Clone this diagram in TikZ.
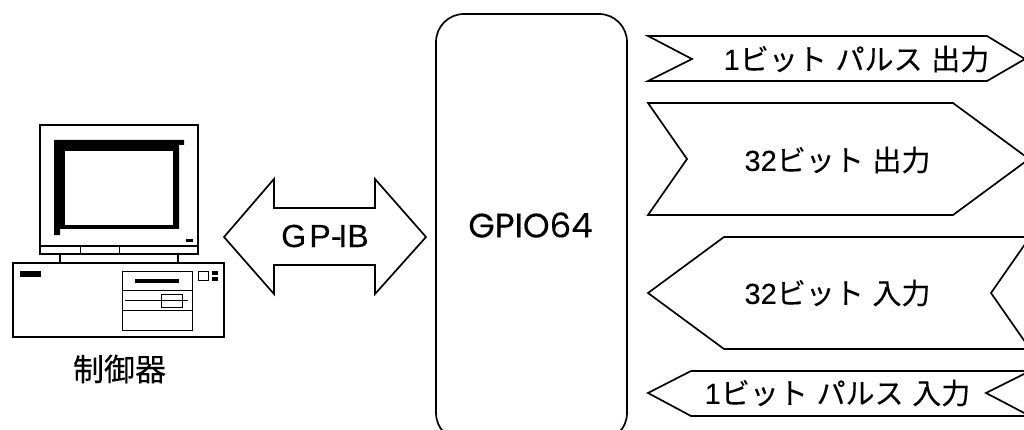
\documentclass[tikz,border=0pt]{standalone}
\usepackage{fontspec}
\setmainfont[FakeBold=0.12]{Liberation Sans}
\newfontfamily\cjk[FakeBold=0.2]{Noto Sans CJK JP}
\newfontfamily\geo[FakeBold=0.15]{Poppins}
\newcommand{\gp}{\hspace{0.3em}}
\tikzset{
  outline/.style={draw=black,line width=1.7pt,line join=miter,fill=white},
  thinline/.style={draw=black,line width=1pt},
  solid black/.style={fill=black,draw=none},
  pulselabel/.style={inner sep=0pt,font=\fontsize{29}{29}\selectfont,text=black},
  bigtext/.style={inner sep=0pt,font=\fontsize{31}{31}\selectfont,text=black}
}
\begin{document}
\begin{tikzpicture}[x=1pt,y=-1pt]
\useasboundingbox (0,0) rectangle (1024,430);
\clip (0,0) rectangle (1024,430);
% monitor
\draw[outline,line width=2pt] (40,125) rectangle (198,254);
\fill[solid black] (54,140) -- (184,140) -- (184,145) -- (179,145) -- (179,229) -- (60,229) -- (60,235) -- (54,235) -- cycle;
\fill[white] (65,151) rectangle (173,225);
\fill[solid black] (186,239) rectangle (193,242);
\draw[outline,line width=1.4pt] (40,246) -- (198,246);
\draw[thinline] (80,246) -- (80,254) (119,246) -- (119,254);
\draw[outline,line width=2pt] (60,254) -- (60,263) (178,254) -- (178,263);
% base
\draw[outline,line width=2pt] (13,263) rectangle (224,337);
\fill[solid black] (20,271) rectangle (41,277);
\draw[thinline] (122,271) rectangle (192,330);
\draw[thinline] (122,290) -- (192,290) (122,310) -- (192,310);
\fill[solid black] (135,279) rectangle (179,283);
\draw[thinline] (125,300) -- (188,300);
\draw[thinline] (161,294) rectangle (182,307);
\draw[thinline] (198,271) rectangle (208,280);
\fill[solid black] (212,271) rectangle (218,275);
\fill[solid black] (212,277) rectangle (218,281);
\node[bigtext] (ctrl) at (119.5,369) {\cjk 制御器};
% double arrow
\draw[outline] (224,237) -- (274,179) -- (274,208) -- (375,208) -- (375,179) -- (426,237) -- (375,294) -- (375,265) -- (274,265) -- (274,294) -- cycle;
\node[inner sep=0pt,font=\fontsize{32}{32}\selectfont,text=black] (gpib) at (325,236) {G\hspace{0.1em}P\hspace{0.01em}-\hspace{-0.1em}IB};
% GPIO64 box
\draw[outline] (436,42) arc[start angle=180,end angle=270,radius=28] -- (599,14) arc[start angle=270,end angle=360,radius=28] -- (627,413) arc[start angle=0,end angle=90,radius=28] -- (464,441) arc[start angle=90,end angle=180,radius=28] -- cycle;
\node[inner sep=0pt,font=\fontsize{34}{34}\selectfont\geo,text=black] (gpio) at (530.5,225) {GPIO64};
% signal arrows
\draw[outline] (648,36) -- (987,36) -- (1025,59) -- (987,81) -- (648,81) -- (692,59) -- cycle;
\node[pulselabel] (p1) at (856.5,59) {1{\cjk ビット\gp パルス\gp 出力}};
\draw[outline] (648,103) -- (953,103) -- (1029,159) -- (953,215) -- (648,215) -- (687,159) -- cycle;
\node[pulselabel] (p2) at (837.5,160) {32{\cjk ビット\gp 出力}};
\draw[outline] (648,293) -- (724,237) -- (1030,237) -- (991,293) -- (1030,349) -- (724,349) -- cycle;
\node[pulselabel] (p3) at (837.5,293) {32{\cjk ビット\gp 入力}};
\draw[outline] (648,393) -- (691,371) -- (1030,371) -- (986,393) -- (1030,416) -- (691,416) -- cycle;
\node[pulselabel] (p4) at (837.5,393) {1{\cjk ビット\gp パルス\gp 入力}};
\end{tikzpicture}
\end{document}
